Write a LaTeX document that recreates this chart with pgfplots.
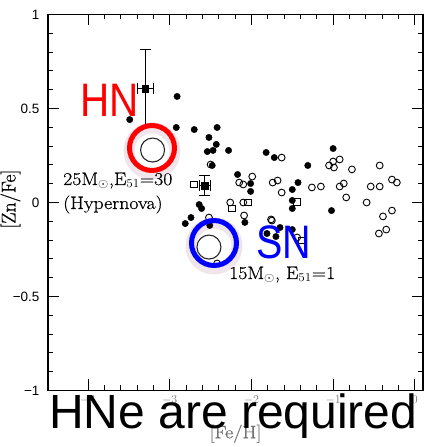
\documentclass[border=0pt]{standalone}
\usepackage{pgfplots}
\pgfplotsset{compat=1.18}
\usepackage{fontspec}
\newfontfamily\sansf{Liberation Sans}
\newfontfamily\heavyserif{Latin Modern Roman}[FakeBold=0.6]
\definecolor{shadowc}{RGB}{120,40,80}
\begin{document}
\begin{tikzpicture}[x=1pt,y=1pt]
\path[use as bounding box] (0,0) rectangle (434,447);
\begin{axis}[
  at={(48pt,56.5pt)}, anchor=south west,
  scale only axis, width=375pt, height=376pt,
  xmin=-4.49, xmax=0.1, ymin=-1, ymax=1,
  xtick={-4,-3,-2,-1,0},
  xticklabels={$-4$,$-3$,$-2$,$-1$,$0$},
  ytick={-1,-0.5,0,0.5,1},
  yticklabels={−1,−0.5,0,0.5,1},
  minor x tick num=4, minor y tick num=4,
  xtick pos=both, ytick pos=both,
  xticklabel pos=lower, yticklabel pos=left,
  tick align=inside,
  major tick length=11pt, minor tick length=5pt,
  tick style={line width=0.9pt, black},
  axis line style={line width=1.4pt},
  xticklabel style={font=\fontsize{13}{13}\selectfont, text=black!55, yshift=-2pt},
  yticklabel style={font=\sansf\fontsize{13.5}{13.5}\selectfont, xshift=-5pt},
  xlabel={[Fe/H]},
  xlabel style={font=\heavyserif\fontsize{18}{18}\selectfont, text=black!55, xscale=1.12, at={(axis description cs:0.5,-0.115)}, anchor=center},
  ylabel={[Zn/Fe]},
  ylabel style={font=\heavyserif\fontsize{20}{20}\selectfont, at={(axis description cs:-0.1,0.509)}, anchor=center, rotate=0},
  clip=false,
]
% open circles (stars)
\addplot[only marks, mark=o, mark size=3.4pt, black, mark options={line width=0.9pt}] coordinates {
(-2.50,0.202) (-1.63,0.239) (-1.99,0.138) (-2.15,0.106) (-2.10,0.096)
(-1.74,0.106) (-1.68,0.117) (-1.63,0.053) (-2.26,0.000) (-2.10,0.000)
(-2.09,-0.069) (-2.52,-0.080) (-1.76,-0.090) (-2.42,-0.324) (-1.05,0.197)
(-1.00,0.218) (-0.99,0.186) (-0.92,0.229) (-0.77,0.176) (-0.43,0.197)
(-1.26,0.080) (-1.15,0.085) (-0.92,0.085) (-0.87,0.101) (-0.84,0.027)
(-0.54,0.085) (-0.43,0.085) (-0.28,0.122) (-0.22,0.106) (-0.59,0.000)
(-0.39,-0.074) (-0.28,-0.043) (-0.44,-0.165) (-0.35,-0.144) (-1.44,-0.186)
(-1.75,-0.096)
};
% open squares
\addplot[only marks, mark=square, mark size=3.4pt, black, mark options={line width=0.9pt}] coordinates {
(-2.70,0.096) (-2.04,0.000) (-2.24,-0.032) (-1.44,0.005) (-1.38,-0.202)
};
% filled circles
\addplot[only marks, mark=*, mark size=3.2pt, black] coordinates {
(-2.91,0.564) (-3.49,0.441) (-2.92,0.399) (-2.70,0.388) (-2.52,0.346)
(-2.42,0.399) (-2.43,0.309) (-2.54,0.271) (-2.47,0.277) (-2.28,0.277)
(-2.48,0.197) (-1.82,0.266) (-1.72,0.239) (-2.17,0.149) (-2.01,0.101)
(-2.01,0.059) (-2.64,-0.011) (-2.61,-0.032) (-2.74,-0.080) (-2.81,-0.112)
(-2.51,-0.122) (-2.08,-0.106) (-1.81,-0.165) (-1.70,-0.181) (-1.65,-0.133)
(-1.50,-0.144) (-1.43,0.106) (-1.50,0.069) (-1.50,0.011) (-1.50,-0.032)
(-1.31,0.197) (-1.00,0.287) (-1.02,-0.043)
};
% filled squares with error bars
\addplot[only marks, mark=square*, mark size=3.4pt, black,
  error bars/.cd, x dir=both, x explicit, y dir=both, y explicit,
  error bar style={line width=0.9pt},
  error mark options={line width=0.9pt, mark size=5.5pt, rotate=90}] coordinates {
(-3.30,0.606) +- (0.10,0.207)
(-2.57,0.090) +- (0.07,0.055)
};
% model yields
\addplot[only marks, mark=o, mark size=12pt, black!85, mark options={line width=1.1pt}] coordinates {
(-3.21,0.279) (-2.52,-0.237)
};
\end{axis}
% annotations
\node[anchor=base west, inner sep=0pt, xscale=1.1, font=\heavyserif\fontsize{18}{18}\selectfont] at (63,262) {25M$_\odot$,E$_{51}$=30};
\node[anchor=base west, inner sep=0pt, xscale=1.1, font=\heavyserif\fontsize{18}{18}\selectfont] at (63,238) {(Hypernova)};
\node[anchor=base west, inner sep=0pt, xscale=1.1, font=\heavyserif\fontsize{18}{18}\selectfont] at (229,168) {15M$_\odot$, E$_{51}$=1};
% shadows
\draw[line width=11pt, shadowc, opacity=0.12] (152,296) circle (23);
\draw[line width=11pt, shadowc, opacity=0.12] (214,201) circle (23);
% highlight circles
\draw[line width=5pt, red] (152,299) circle (22.5);
\draw[line width=5pt, blue] (214,204) circle (22.5);
\node[anchor=base west, inner sep=0pt, xscale=0.86, text=red, font=\sansf\fontsize{47}{47}\selectfont] at (80,330) {HN};
\node[anchor=base west, inner sep=0pt, xscale=0.84, text=blue, font=\sansf\fontsize{47}{47}\selectfont] at (256,188) {SN};
\node[anchor=base west, inner sep=0pt, font=\sansf\fontsize{48}{48}\selectfont] at (49,19) {HNe are required};
\end{tikzpicture}
\end{document}
